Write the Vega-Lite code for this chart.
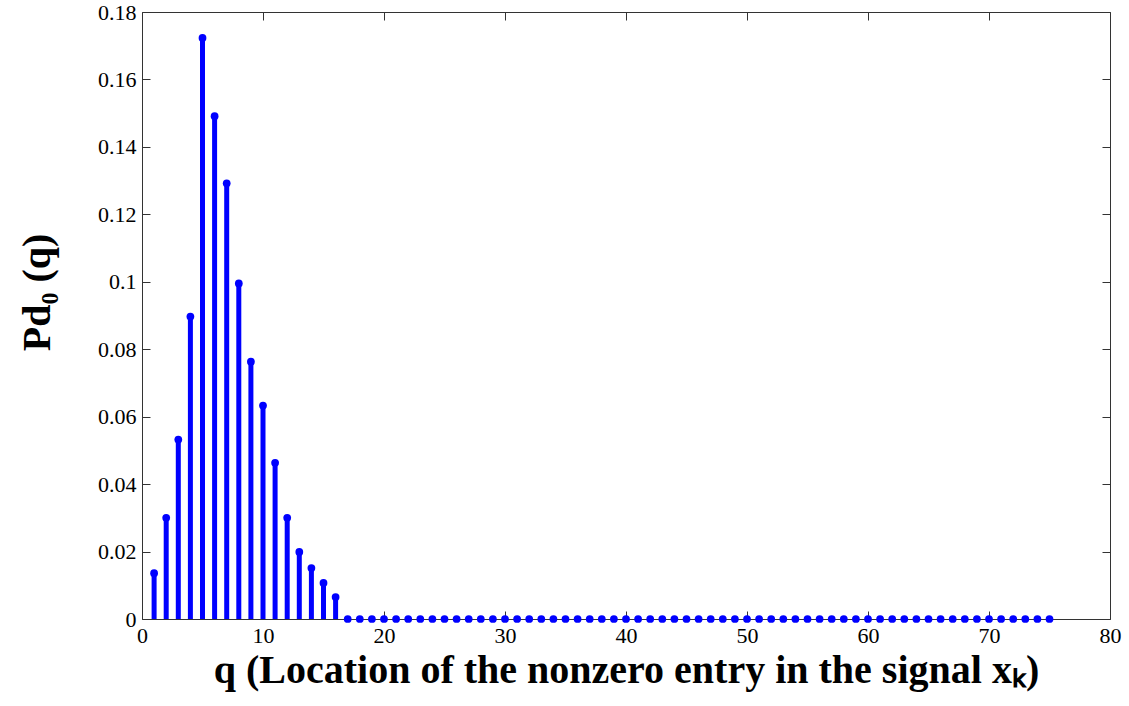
{
  "$schema": "https://vega.github.io/schema/vega-lite/v6.json",
  "width": 968,
  "height": 607,
  "autosize": {"type": "none"},
  "padding": {"left": 142, "top": 12, "right": 19, "bottom": 87},
  "background": "white",
  "config": {
    "view": {"stroke": "#333333", "strokeWidth": 1},
    "font": "Liberation Serif",
    "axis": {"labelFont": "Liberation Serif", "titleFont": "Liberation Serif", "grid": false, "domain": false, "tickColor": "#333333", "labelColor": "#000000", "titleColor": "#000000"}
  },
  "data": {
    "values": [
      {"q": 1, "p": 0.0136}, {"q": 2, "p": 0.030}, {"q": 3, "p": 0.0532}, {"q": 4, "p": 0.0897},
      {"q": 5, "p": 0.1723}, {"q": 6, "p": 0.1491}, {"q": 7, "p": 0.1292}, {"q": 8, "p": 0.0995},
      {"q": 9, "p": 0.0763}, {"q": 10, "p": 0.0633}, {"q": 11, "p": 0.0463}, {"q": 12, "p": 0.030},
      {"q": 13, "p": 0.0199}, {"q": 14, "p": 0.0151}, {"q": 15, "p": 0.0107}, {"q": 16, "p": 0.0065},
      {"q": 17, "p": 0}, {"q": 18, "p": 0}, {"q": 19, "p": 0}, {"q": 20, "p": 0}, {"q": 21, "p": 0},
      {"q": 22, "p": 0}, {"q": 23, "p": 0}, {"q": 24, "p": 0}, {"q": 25, "p": 0}, {"q": 26, "p": 0},
      {"q": 27, "p": 0}, {"q": 28, "p": 0}, {"q": 29, "p": 0}, {"q": 30, "p": 0}, {"q": 31, "p": 0},
      {"q": 32, "p": 0}, {"q": 33, "p": 0}, {"q": 34, "p": 0}, {"q": 35, "p": 0}, {"q": 36, "p": 0},
      {"q": 37, "p": 0}, {"q": 38, "p": 0}, {"q": 39, "p": 0}, {"q": 40, "p": 0}, {"q": 41, "p": 0},
      {"q": 42, "p": 0}, {"q": 43, "p": 0}, {"q": 44, "p": 0}, {"q": 45, "p": 0}, {"q": 46, "p": 0},
      {"q": 47, "p": 0}, {"q": 48, "p": 0}, {"q": 49, "p": 0}, {"q": 50, "p": 0}, {"q": 51, "p": 0},
      {"q": 52, "p": 0}, {"q": 53, "p": 0}, {"q": 54, "p": 0}, {"q": 55, "p": 0}, {"q": 56, "p": 0},
      {"q": 57, "p": 0}, {"q": 58, "p": 0}, {"q": 59, "p": 0}, {"q": 60, "p": 0}, {"q": 61, "p": 0},
      {"q": 62, "p": 0}, {"q": 63, "p": 0}, {"q": 64, "p": 0}, {"q": 65, "p": 0}, {"q": 66, "p": 0},
      {"q": 67, "p": 0}, {"q": 68, "p": 0}, {"q": 69, "p": 0}, {"q": 70, "p": 0}, {"q": 71, "p": 0},
      {"q": 72, "p": 0}, {"q": 73, "p": 0}, {"q": 74, "p": 0}, {"q": 75, "p": 0}
    ]
  },
  "layer": [
    {
      "mark": {"type": "rule", "color": "#0000ff", "strokeWidth": 5},
      "encoding": {
        "x": {"field": "q", "type": "quantitative", "scale": {"domain": [0, 80], "nice": false, "zero": false},
          "axis": {"orient": "bottom", "values": [0, 10, 20, 30, 40, 50, 60, 70, 80], "tickSize": -8, "labelPadding": 14, "labelFont": "Liberation Serif", "labelFontSize": 22, "labelFlush": false,
            "title": "q (Location of the nonzero entry in the signal xₖ)", "titleFont": "Liberation Serif", "titleFontSize": 40, "titleFontWeight": "bold", "titlePadding": 4}},
        "y": {"field": "p", "type": "quantitative", "scale": {"domain": [0, 0.18], "nice": false},
          "axis": {"orient": "left", "values": [0, 0.02, 0.04, 0.06, 0.08, 0.1, 0.12, 0.14, 0.16, 0.18], "labelExpr": "datum.value == 0 ? '0' : format(datum.value, '.2~f')", "tickSize": -8, "labelPadding": 14, "labelFont": "Liberation Serif", "labelFontSize": 22, "labelFlush": false,
            "title": "Pd₀ (q)", "titleFont": "Liberation Serif", "titleFontSize": 40, "titleFontWeight": "bold", "titlePadding": 40, "titleY": 280}},
        "y2": {"datum": 0}
      }
    },
    {
      "mark": {"type": "point", "filled": true, "color": "#0000ff", "size": 60, "opacity": 1},
      "encoding": {
        "x": {"field": "q", "type": "quantitative",
          "axis": {"orient": "top", "values": [0, 10, 20, 30, 40, 50, 60, 70, 80], "tickSize": -8, "labels": false, "title": null}},
        "y": {"field": "p", "type": "quantitative",
          "axis": {"orient": "right", "values": [0, 0.02, 0.04, 0.06, 0.08, 0.1, 0.12, 0.14, 0.16, 0.18], "tickSize": -8, "labels": false, "title": null}}
      }
    }
  ],
  "resolve": {"axis": {"x": "independent", "y": "independent"}}
}
